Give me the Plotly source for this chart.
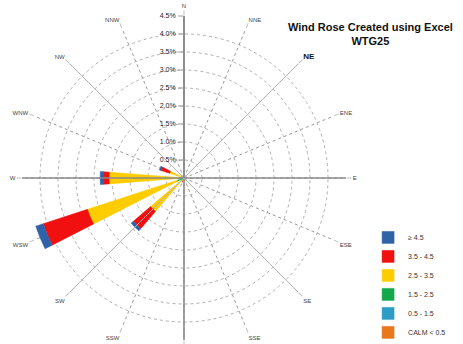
import plotly.graph_objects as go

directions = ["N", "NNE", "NE", "ENE", "E", "ESE", "SE", "SSE",
              "S", "SSW", "SW", "WSW", "W", "WNW", "NW", "NNW"]
angles = [i * 22.5 for i in range(16)]

# frequency (%) per speed class, per direction
calm      = [0.00] * 16
s_05_15   = [0.01, 0.01, 0.01, 0.01, 0.01, 0.01, 0.01, 0.01, 0.01, 0.02, 0.03, 0.05, 0.04, 0.03, 0.02, 0.01]
s_15_25   = [0.01, 0.00, 0.00, 0.01, 0.01, 0.01, 0.01, 0.01, 0.01, 0.03, 0.08, 0.15, 0.12, 0.05, 0.03, 0.01]
s_25_35   = [0.02, 0.01, 0.00, 0.01, 0.01, 0.01, 0.01, 0.01, 0.02, 0.05, 1.11, 2.62, 1.92, 0.34, 0.05, 0.02]
s_35_45   = [0.00, 0.00, 0.00, 0.00, 0.00, 0.00, 0.00, 0.00, 0.00, 0.02, 0.63, 1.29, 0.17, 0.25, 0.01, 0.00]
s_45_up   = [0.00, 0.00, 0.00, 0.00, 0.00, 0.00, 0.00, 0.00, 0.00, 0.00, 0.08, 0.22, 0.08, 0.05, 0.00, 0.00]

series = [
    ("CALM &lt; 0.5", calm, "#E8771E"),
    ("0.5 - 1.5", s_05_15, "#2E9CC4"),
    ("1.5 - 2.5", s_15_25, "#13A84B"),
    ("2.5 - 3.5", s_25_35, "#FFCC00"),
    ("3.5 - 4.5", s_35_45, "#F01010"),
    ("≥ 4.5", s_45_up, "#2F63A8"),
]

radial_ticks = [0.5, 1.0, 1.5, 2.0, 2.5, 3.0, 3.5, 4.0, 4.5]
radial_labels = [f"{v:.1f}%" for v in radial_ticks]
rmax = 4.5

fig = go.Figure()

# main spokes (solid): cardinal and intercardinal
for a, col, w in [(0, "#8a8a8a", 1.6), (90, "#8a8a8a", 1.6), (45, "#b5b5b5", 1.0), (135, "#b5b5b5", 1.0)]:
    fig.add_trace(go.Scatterpolar(r=[rmax, 0, rmax], theta=[a, a, a + 180], mode="lines",
                                  line=dict(color=col, width=w), showlegend=False, hoverinfo="skip"))

for name, vals, col in series:
    fig.add_trace(go.Barpolar(r=vals, theta=angles, width=9, name=name,
                              marker=dict(color=col, line=dict(color=col, width=0.5))))

dir_text = ["<b><span style='font-size:8px;color:#111'>NE</span></b>" if d == "NE" else d for d in directions]

fig.update_layout(
    width=463, height=344,
    margin=dict(l=0, r=0, t=0, b=0, autoexpand=False),
    paper_bgcolor="white",
    font=dict(family="Liberation Sans, Arial, sans-serif"),
    title=dict(text="<b>Wind Rose Created using Excel<br>WTG25</b>",
               x=0.80, y=0.91, xanchor="center", yanchor="top",
               font=dict(size=11, color="#111")),
    polar=dict(
        domain=dict(x=[0.0475, 0.7473], y=[0.0116, 0.9535]),
        bgcolor="white",
        barmode="stack",
        radialaxis=dict(range=[0, rmax], tickmode="array", tickvals=radial_ticks, ticktext=radial_labels,
                        angle=90, tickangle=90, side="counterclockwise",
                        showline=True, linecolor="#8a8a8a", linewidth=1.6,
                        ticks="outside", ticklen=5, tickcolor="#999",
                        gridcolor="#b0b0b0", griddash="dot", gridwidth=1,
                        tickfont=dict(size=7, color="#222")),
        angularaxis=dict(rotation=90, direction="clockwise", tickmode="array",
                         tickvals=angles, ticktext=dir_text, showline=False,
                         ticks="outside", ticklen=5, tickcolor="#c0c0c0", tickwidth=1,
                         gridcolor="#9a9a9a", griddash="dot", gridwidth=1,
                         tickfont=dict(size=6, color="#444")),
    ),
    legend=dict(x=0.795, y=0.352, xanchor="left", yanchor="top", traceorder="reversed",
                font=dict(size=7, color="#333"), itemwidth=30, bgcolor="rgba(0,0,0,0)"),
)

fig.write_html("out.html", config={"displayModeBar": False},
               post_script="document.body.style.margin='0';")
